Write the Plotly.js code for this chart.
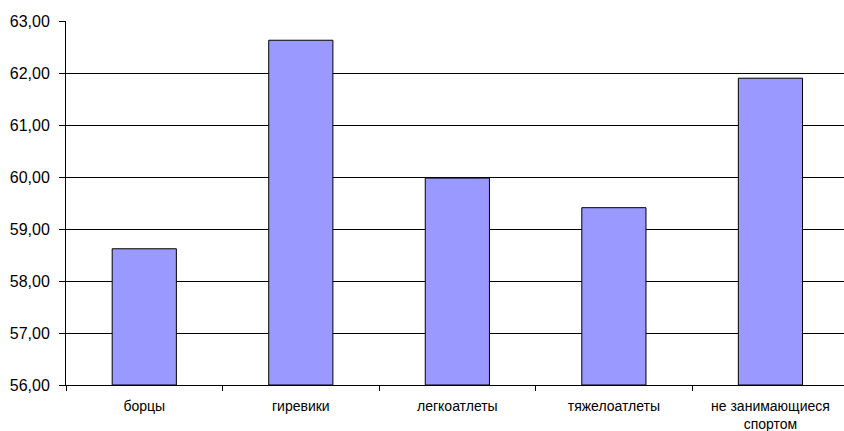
<!DOCTYPE html>
<html><head><meta charset="utf-8">
<script src="https://cdn.plot.ly/plotly-3.0.1.min.js"></script>
<style>html,body{margin:0;padding:0;background:#fff;}#chart{width:844px;height:431px;}</style>
</head><body><div id="chart"></div>
<script>
const categories = ["борцы", "гиревики", "легкоатлеты", "тяжелоатлеты", "не занимающиеся<br>спортом"];
const values = [58.62, 62.63, 59.98, 59.41, 61.90];
const yTicks = [56, 57, 58, 59, 60, 61, 62, 63];
const baseValue = 56;

const trace = {
  type: "bar",
  x: categories,
  y: values.map(v => v - baseValue),
  base: baseValue,
  width: 0.41,
  marker: {color: "#9999FF", line: {color: "#000000", width: 1}},
  hoverinfo: "skip"
};

const layout = {
  width: 844, height: 431,
  margin: {l: 66, r: 0, t: 21, b: 46},
  paper_bgcolor: "#fff", plot_bgcolor: "#fff",
  separators: ", ",
  showlegend: false,
  font: {family: "Liberation Sans, Arial, sans-serif", color: "#000"},
  xaxis: {
    type: "category",
    range: [-0.5, 4.47],
    tickson: "boundaries",
    ticks: "outside", ticklen: 5, tickcolor: "#000", tickwidth: 1,
    ticklabelstandoff: 8,
    showline: true, linecolor: "#000", linewidth: 1,
    showgrid: false, zeroline: false,
    tickfont: {size: 14, family: "Liberation Sans, Arial, sans-serif"},
    tickangle: 0
  },
  yaxis: {
    range: [56, 63],
    tickvals: yTicks,
    tickformat: ".2f",
    ticks: "outside", ticklen: 6, tickcolor: "#000", tickwidth: 1,
    ticklabelstandoff: 6,
    showline: true, linecolor: "#000", linewidth: 1,
    showgrid: true, gridcolor: "#000", gridwidth: 1,
    zeroline: false,
    tickfont: {size: 16, family: "Liberation Sans, Arial, sans-serif"}
  }
};
Plotly.newPlot("chart", [trace], layout, {staticPlot: true});
</script>
</body></html>
